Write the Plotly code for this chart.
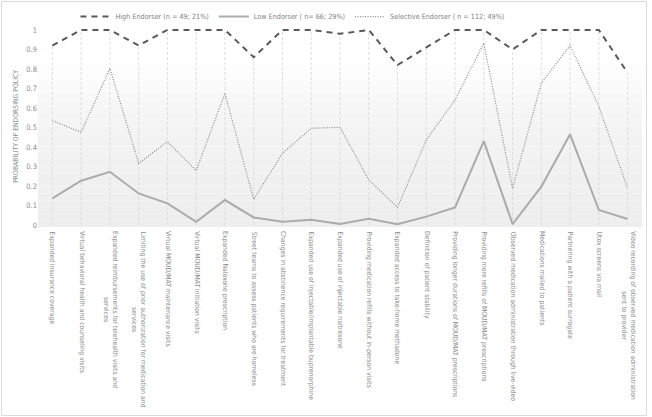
import plotly.graph_objects as go

categories = [
    "Expanded insurance coverage",
    "Virtual behavioral health and counseling visits",
    "Expanded reimbursements for telehealth visits and<br>services",
    "Limiting the use of prior authorization for medication and<br>services",
    "Virtual MOUD/MAT maintenance visits",
    "Virtual MOUD/MAT initiation visits",
    "Expanded Naloxone prescription",
    "Street teams to assess patients who are homeless",
    "Changes in abstinence requirements for treatment",
    "Expanded use of injectable/implantable buprenorphine",
    "Expanded use of injectable naltrexone",
    "Providing medication refills without in-person visits",
    "Expanded access to take-home methadone",
    "Definition of patient stability",
    "Providing longer durations of MOUD/MAT prescriptions",
    "Providing more refills of MOUD/MAT prescriptions",
    "Observed medication administration through live-video",
    "Medications mailed to patients",
    "Partnering with a patient surrogate",
    "Utox screens via mail",
    "Video recording of observed medication administration<br>sent to provider",
]

high_endorser = [0.92, 1.0, 1.0, 0.92, 1.0, 1.0, 1.0, 0.86, 1.0, 1.0, 0.98,
                 1.0, 0.82, 0.91, 1.0, 1.0, 0.90, 1.0, 1.0, 1.0, 0.78]
low_endorser = [0.137, 0.227, 0.273, 0.162, 0.111, 0.017, 0.128, 0.039, 0.017, 0.027, 0.005,
                0.032, 0.004, 0.043, 0.09, 0.43, 0.005, 0.197, 0.465, 0.077, 0.031]
selective_endorser = [0.535, 0.475, 0.803, 0.316, 0.427, 0.279, 0.675, 0.132, 0.368, 0.496, 0.501,
                      0.231, 0.091, 0.436, 0.641, 0.932, 0.188, 0.727, 0.92, 0.607, 0.188]

series_names = [
    "High Endorser (n = 49; 21%)",
    "Low Endorser ( n= 66; 29%)",
    "Selective Endorser ( n = 112; 49%)",
]

y_ticks = [0, 0.1, 0.2, 0.3, 0.4, 0.5, 0.6, 0.7, 0.8, 0.9, 1]
y_tick_labels = ["0", "0.1", "0.2", "0.3", "0.4", "0.5", "0.6", "0.7", "0.8", "0.9", "1"]

xs = list(range(len(categories)))

drop_x, drop_y = [], []
for i, v in enumerate(high_endorser):
    top = max(v, low_endorser[i], selective_endorser[i])
    drop_x += [i, i, None]
    drop_y += [0, top, None]

fig = go.Figure()
fig.add_trace(go.Scatter(x=drop_x, y=drop_y, mode="lines", showlegend=False, hoverinfo="skip",
                         line=dict(color="#d6d6d6", width=0.8, dash="3px,2px")))
fig.add_trace(go.Scatter(x=xs, y=high_endorser, mode="lines", name=series_names[0],
                         line=dict(color="#595959", width=2, dash="6px,5px")))
fig.add_trace(go.Scatter(x=xs, y=low_endorser, mode="lines", name=series_names[1],
                         line=dict(color="#ababab", width=2)))
fig.add_trace(go.Scatter(x=xs, y=selective_endorser, mode="lines", name=series_names[2],
                         line=dict(color="#8a8a8a", width=1.2, dash="1px,1.5px")))

shapes = []
n_bands = 30
for k in range(n_bands):
    y0 = k / n_bands
    y1 = (k + 1) / n_bands
    frac = y0
    if frac < 0.5:
        c = 238 + int(6 * frac / 0.5)
    elif frac < 0.8:
        c = 244 + int(11 * (frac - 0.5) / 0.3)
    else:
        c = 255
    c = min(c, 255)
    shapes.append(dict(type="rect", xref="x domain", yref="y domain", x0=0, x1=1, y0=y0, y1=y1,
                       fillcolor=f"rgb({c},{c},{c})", line=dict(width=0), layer="below"))
shapes.append(dict(type="rect", xref="paper", yref="paper", x0=-0.0604, x1=1.0075, y0=-0.938, y1=1.122,
                   line=dict(color="#d9d9d9", width=1), fillcolor="rgba(0,0,0,0)", layer="below"))

font_family = "Liberation Sans Narrow, DejaVu Sans Condensed, sans-serif"

annotations = []
for i, lab in enumerate(categories):
    annotations.append(dict(x=i, xref="x", y=-0.012, yref="paper", text=lab, showarrow=False,
                            textangle=90, xanchor="center", yanchor="top", align="center",
                            font=dict(size=6.8, color="#8c8c8c", family=font_family)))

fig.update_layout(
    width=652, height=417,
    margin=dict(l=38, r=10, t=26, b=190, autoexpand=False),
    paper_bgcolor="white", plot_bgcolor="white",
    shapes=shapes,
    annotations=annotations,
    font=dict(family=font_family, color="#8c8c8c", size=8),
    legend=dict(orientation="h", x=0.062, xanchor="left", y=0.995, yanchor="top",
                yref="container", font=dict(size=7.2, color="#7f7f7f"),
                bgcolor="rgba(0,0,0,0)", itemwidth=30, tracegroupgap=0),
    showlegend=True,
)

fig.update_xaxes(
    range=[-0.5, len(categories) - 0.5],
    tickmode="array", tickvals=xs, showticklabels=False,
    showgrid=False, zeroline=False, showline=False, ticks="",
)
fig.update_yaxes(
    range=[-0.01, 1.02],
    tickmode="array", tickvals=y_ticks, ticktext=y_tick_labels,
    tickfont=dict(size=7.5, color="#8c8c8c"),
    showgrid=False, zeroline=False, showline=False, ticks="",
    title=dict(text="PROBABILITY OF ENDORSING POLICY", font=dict(size=6.8, color="#8c8c8c"), standoff=6),
)

fig.write_html("out.html", config={"displayModeBar": False},
               post_script="document.body.style.margin='0';")
